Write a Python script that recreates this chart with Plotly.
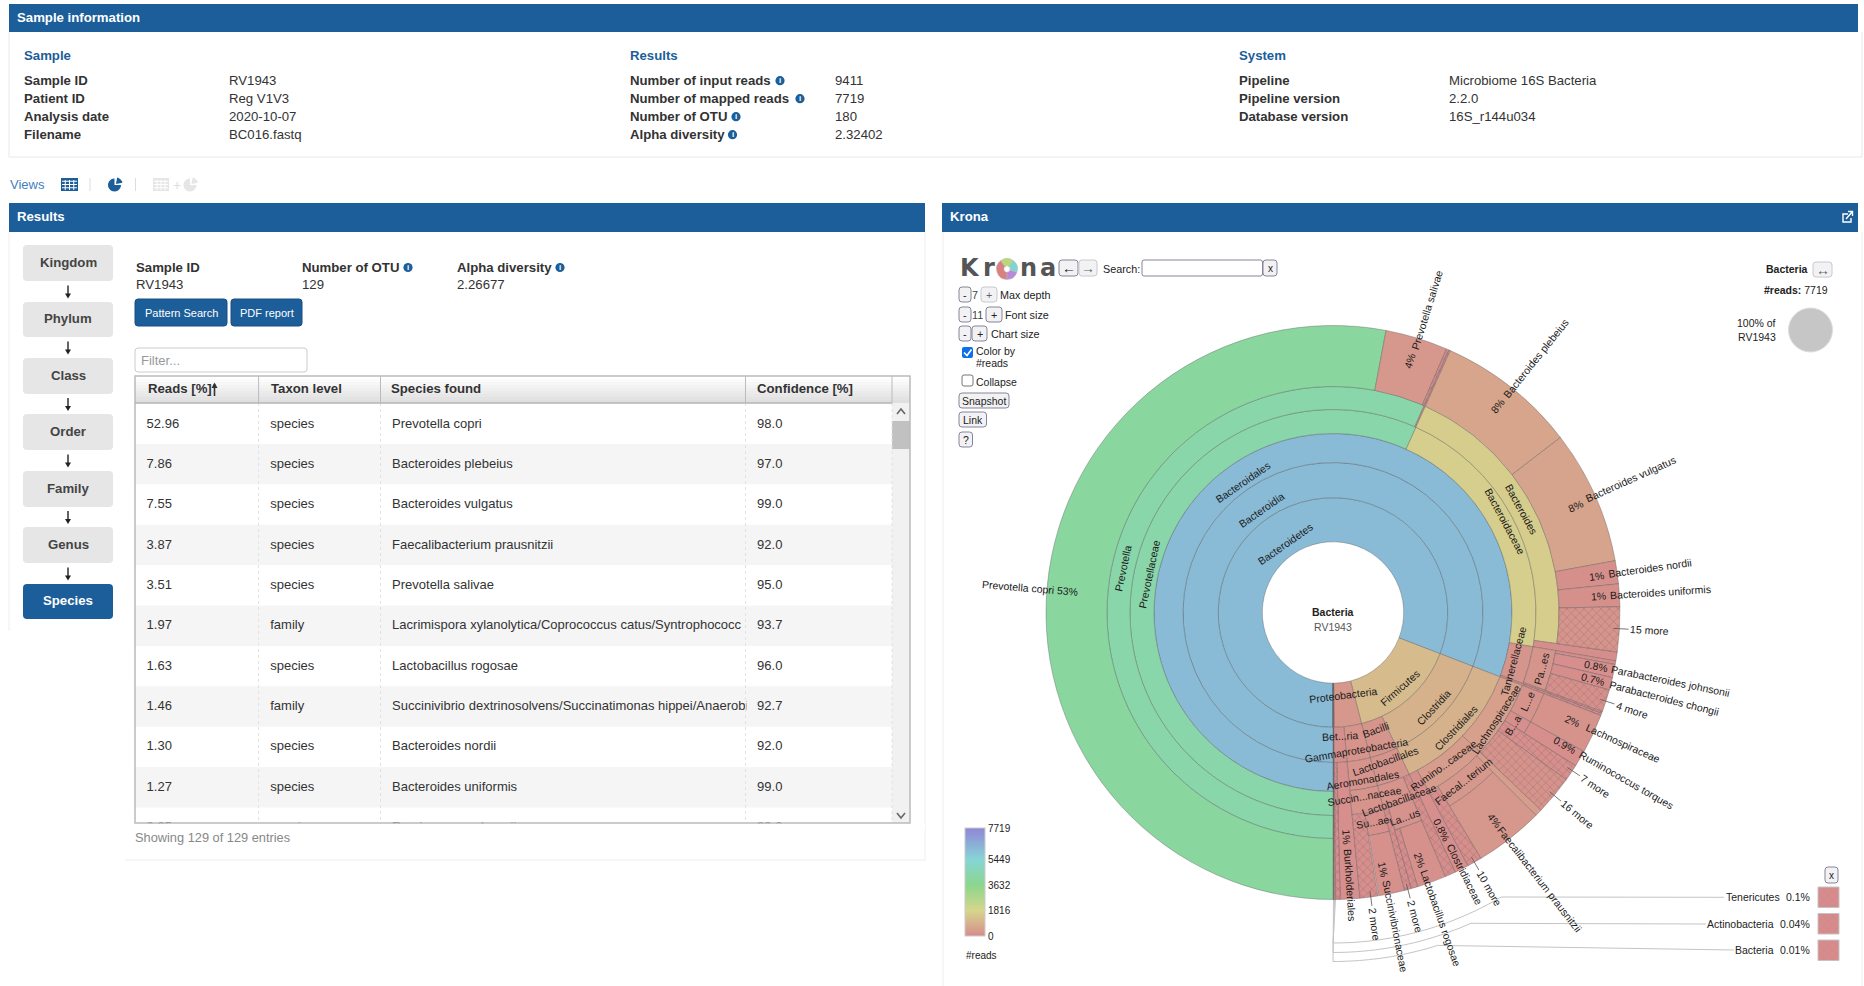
import math
import plotly.graph_objects as go

W, H = 1864, 986
CX, CY = 1333, 612.5
BLUE = "#1c5e99"
FONT = "Liberation Sans"
TS = 13.2  # body text size

# ---------- data ----------
sample_labels = ["Sample ID", "Patient ID", "Analysis date", "Filename"]
sample_values = ["RV1943", "Reg V1V3", "2020-10-07", "BC016.fastq"]
result_labels = ["Number of input reads", "Number of mapped reads", "Number of OTU", "Alpha diversity"]
result_values = ["9411", "7719", "180", "2.32402"]
system_labels = ["Pipeline", "Pipeline version", "Database version"]
system_values = ["Microbiome 16S Bacteria", "2.2.0", "16S_r144u034"]
levels = ["Kingdom", "Phylum", "Class", "Order", "Family", "Genus", "Species"]

table_headers = ["Reads [%]", "Taxon level", "Species found", "Confidence [%]"]
reads_pct = [52.96, 7.86, 7.55, 3.87, 3.51, 1.97, 1.63, 1.46, 1.30, 1.27, 0.95]
taxon_level = ["species", "species", "species", "species", "species", "family", "species", "family", "species", "species", "species"]
species_found = ["Prevotella copri", "Bacteroides plebeius", "Bacteroides vulgatus", "Faecalibacterium prausnitzii",
                 "Prevotella salivae", "Lacrimispora xylanolytica/Coprococcus catus/Syntrophococc",
                 "Lactobacillus rogosae", "Succinivibrio dextrinosolvens/Succinatimonas hippei/Anaerobi",
                 "Bacteroides nordii", "Bacteroides uniformis", "Ruminococcus bromii"]
confidence = [98.0, 97.0, 99.0, 92.0, 95.0, 93.7, 96.0, 92.7, 92.0, 99.0, 99.0]

# Krona cells: percent of reads clockwise from the bottom, ring span, reads
cell_names = ["Bacteroidetes", "Firmicutes", "Proteobacteria", "Tenericutes", "Actinobacteria", "Bacteria",
              "Bacteroidia", "Clostridia", "Bacilli", "Gammaproteobacteria", "Betaproteobacteria",
              "Bacteroidales", "Clostridiales", "Lactobacillales", "Aeromonadales", "Burkholderiales", "other Betaproteobacteria",
              "Prevotellaceae", "Bacteroidaceae", "Tannerellaceae", "other Bacteroidales", "Lachnospiraceae", "Ruminococcaceae",
              "Clostridiaceae", "other Lactobacillales", "Lactobacillaceae", "Succinivibrionaceae",
              "Prevotella", "other Prevotellaceae", "Bacteroides", "other Bacteroidaceae", "Parabacteroides", "other Tannerellaceae",
              "Lachnospiraceae g.", "Blautia", "7 more", "16 more", "other Ruminococcaceae", "Faecalibacterium", "10 more",
              "Lactobacillus", "other Lactobacillaceae", "Succinivibrio", "2 more",
              "Prevotella copri", "Prevotella salivae", "other Prevotella", "Bacteroides plebeius", "Bacteroides vulgatus",
              "Bacteroides nordii", "Bacteroides uniformis", "15 more", "other Parabacteroides", "Parabacteroides johnsonii",
              "Parabacteroides chongii", "4 more", "Lachnospiraceae sp.", "Ruminococcus torques", "Faecalibacterium prausnitzii",
              "Lactobacillus rogosae", "2 more", "Succinivibrionaceae sp."]
cell_start = [0, 80.85, 96.0, 99.85, 99.95, 99.99,
              0, 80.85, 93.0, 96.0, 98.5,
              0, 80.85, 93.0, 96.0, 98.5, 99.6,
              0, 56.7, 77.7, 80.7, 80.85, 87.1,
              92.2, 93.0, 93.6, 96.0,
              0, 56.6, 56.7, 77.2, 77.7, 80.6,
              80.85, 83.05, 83.95, 84.9, 87.1, 87.5, 91.37,
              93.6, 95.6, 96.0, 97.5,
              0, 52.96, 56.47, 56.7, 64.56,
              72.11, 73.41, 74.68, 77.7, 77.9,
              78.65, 79.35, 80.85, 83.05, 87.5,
              93.6, 95.23, 96.0]
cell_pct = [80.85, 15.15, 3.85, 0.10, 0.04, 0.01,
            80.85, 12.15, 3.0, 2.5, 1.35,
            80.85, 12.15, 3.0, 2.5, 1.1, 0.25,
            56.7, 21.0, 3.0, 0.15, 6.25, 5.1,
            0.8, 0.6, 2.4, 2.5,
            56.6, 0.1, 20.5, 0.5, 2.9, 0.1,
            2.2, 0.9, 0.95, 2.2, 0.4, 3.87, 0.83,
            2.0, 0.4, 1.5, 1.0,
            52.96, 3.51, 0.13, 7.86, 7.55,
            1.30, 1.27, 2.52, 0.2, 0.75,
            0.7, 1.25, 2.2, 0.9, 3.87,
            1.63, 0.37, 1.46]
cell_inner = [0, 0, 0, 0, 0, 0,
              1, 1, 1, 1, 1,
              2, 2, 2, 2, 2, 2,
              3, 3, 3, 3, 3, 3,
              3, 3, 3, 3,
              4, 4, 4, 4, 4, 4,
              4, 4, 4, 4, 4, 4, 4,
              4, 4, 4, 4,
              5, 5, 5, 5, 5,
              5, 5, 5, 5, 5,
              5, 5, 5, 5, 5,
              5, 5, 5]
cell_outer = [1, 1, 1, 6, 6, 6,
              2, 2, 2, 2, 2,
              3, 3, 3, 3, 6, 6,
              4, 4, 4, 6, 4, 4,
              6, 6, 4, 4,
              5, 6, 5, 6, 5, 6,
              5, 5, 6, 6, 6, 5, 6,
              5, 6, 5, 6,
              6, 6, 6, 6, 6,
              6, 6, 6, 6, 6,
              6, 6, 6, 6, 6,
              6, 6, 6]
cell_hatched = [0, 0, 0, 1, 1, 1,
                0, 0, 0, 0, 0,
                0, 0, 0, 0, 0, 1,
                0, 0, 0, 1, 0, 0,
                0, 1, 0, 0,
                0, 1, 0, 0, 0, 1,
                0, 0, 1, 1, 0, 0, 1,
                0, 1, 0, 1,
                0, 0, 1, 0, 0,
                0, 0, 1, 0, 0,
                0, 1, 0, 0, 0,
                0, 1, 0]
cell_reads = [6241, 1169, 297, 8, 3, 1,
              6241, 938, 232, 193, 104,
              6241, 938, 232, 193, 85, 19,
              4377, 1621, 232, 12, 482, 394,
              62, 46, 185, 193,
              4369, 8, 1582, 39, 224, 8,
              170, 69, 73, 170, 394, 299, 64,
              154, 31, 116, 77,
              4088, 271, 10, 607, 583,
              100, 98, 195, 15, 62,
              54, 96, 170, 69, 299,
              126, 29, 113]

ring_radius = [70.7, 114.8, 150, 179, 203, 226, 287]

legend_ticks = [0, 1816, 3632, 5449, 7719]
other_names = ["Tenericutes", "Actinobacteria", "Bacteria"]
other_shares = ["0.1%", "0.04%", "0.01%"]

# label name, percent position, radius of the label centre
tangent_labels = [("Bacteroidetes", 40.3, 84), ("Bacteroidia", 40.3, 125.5), ("Bacteroidales", 40.4, 158.6),
                  ("Prevotellaceae", 28.3, 188), ("Prevotella", 28.3, 214.3), ("Bacteroides", 67.0, 215),
                  ("Bacteroidaceae", 67.2, 195), ("Tannerellaceae", 79.2, 187), ("Pa...es", 79.2, 215.7),
                  ("L...e", 81.8, 213.7), ("B...a", 83.9, 212.4), ("Lachnospiraceae", 84.2, 195),
                  ("Rumino...caceae", 90.0, 188.5), ("Faecal...terium", 89.5, 213.8), ("Clostridiales", 87.0, 168),
                  ("Clostridia", 87.0, 138.6), ("Firmicutes", 88.5, 101), ("Proteobacteria", 98.0, 83),
                  ("Bet...ria", 99.1, 124), ("Bacilli", 94.5, 124.6), ("Gammaproteobacteria", 97.3, 139),
                  ("Lactobacillales", 94.6, 158), ("Aeromonadales", 97.2, 170), ("Succin...naceae", 97.3, 186),
                  ("Lactobacillaceae", 94.6, 198.7), ("Su...ae", 97.0, 213), ("La...us", 94.6, 216.6)]
radial_labels = [("Prevotella copri", 26.3, 316), ("53%", 26.3, 266), ("Prevotella salivae", 54.8, 316.6), ("4%", 54.7, 263),
                 ("Bacteroides plebeius", 60.7, 324.5), ("8%", 60.7, 264), ("Bacteroides vulgatus", 68.3, 326), ("8%", 68.4, 265),
                 ("Bacteroides nordii", 72.8, 320), ("1%", 72.8, 265.6), ("Bacteroides uniformis", 74.0, 328.4), ("1%", 74.0, 266),
                 ("Parabacteroides johnsonii", 78.2, 344.7), ("0.8%", 78.2, 268.4), ("Parabacteroides chongii", 79.0, 341.8), ("0.7%", 79.0, 268),
                 ("Lachnospiraceae", 81.75, 317.8), ("2%", 81.75, 263), ("Ruminococcus torques", 83.25, 338), ("0.9%", 83.25, 267),
                 ("Faecalibacterium prausnitzii", 89.5, 337), ("4%", 89.5, 263), ("Clostridiaceae", 92.6, 293), ("0.8%", 92.6, 243),
                 ("Lactobacillus rogosae", 94.6, 324), ("2%", 94.6, 262), ("Succinivibrionaceae", 96.9, 320), ("1%", 96.9, 262),
                 ("Burkholderiales", 99.0, 273), ("1%", 99.0, 224.5)]
more_labels = [("15 more", 75.9), ("4 more", 80.0), ("7 more", 84.3), ("16 more", 86.0),
               ("10 more", 91.8), ("2 more", 95.8), ("2 more", 97.9)]

# ---------- helpers ----------
shapes, annos = [], []


def polar_xy(p, r):
    th = math.radians(180 + 3.6 * p)
    return CX + r * math.sin(th), CY - r * math.cos(th)


def T(text, x, y, size=TS, color="#333333", bold=False, anchor="left", angle=0, font=FONT):
    if anchor == "left":
        x -= 1
    annos.append(dict(text=f"<b>{text}</b>" if bold else text, x=x, y=y, xref="x", yref="y", showarrow=False,
                      xanchor=anchor, yanchor="middle", textangle=angle, borderpad=0,
                      font=dict(family=font, size=size, color=color)))


def rect(x0, y0, x1, y1, fill="rgba(0,0,0,0)", line="rgba(0,0,0,0)", lw=0, layer="below"):
    shapes.append(dict(type="rect", xref="x", yref="y", x0=x0, y0=y0, x1=x1, y1=y1, fillcolor=fill,
                       line=dict(color=line, width=lw), layer=layer))


def line(x0, y0, x1, y1, color="#cccccc", lw=1, dash="solid", layer="below"):
    shapes.append(dict(type="line", xref="x", yref="y", x0=x0, y0=y0, x1=x1, y1=y1,
                       line=dict(color=color, width=lw, dash=dash), layer=layer))


def path(d, fill="rgba(0,0,0,0)", color="rgba(0,0,0,0)", lw=0, layer="below"):
    shapes.append(dict(type="path", xref="x", yref="y", path=d, fillcolor=fill,
                       line=dict(color=color, width=lw), layer=layer))


def rrect(x0, y0, x1, y1, r=3, fill="#ffffff", color="rgba(0,0,0,0)", lw=0, layer="below"):
    d = (f"M{x0+r},{y0} L{x1-r},{y0} Q{x1},{y0} {x1},{y0+r} L{x1},{y1-r} Q{x1},{y1} {x1-r},{y1} "
         f"L{x0+r},{y1} Q{x0},{y1} {x0},{y1-r} L{x0},{y0+r} Q{x0},{y0} {x0+r},{y0} Z")
    path(d, fill, color, lw, layer)


def circle(cx, cy, r, fill, color="rgba(0,0,0,0)", lw=0, layer="below"):
    shapes.append(dict(type="circle", xref="x", yref="y", x0=cx-r, y0=cy-r, x1=cx+r, y1=cy+r, fillcolor=fill,
                       line=dict(color=color, width=lw), layer=layer))


def info(cx, cy):
    circle(cx, cy, 4.6, BLUE)
    T("i", cx, cy, size=8, color="#ffffff", bold=True, anchor="center")


def grid_icon(x0, y0, x1, y1, color):
    rect(x0, y0, x1, y1, fill=color)
    for i in (1, 2, 3):
        xx = x0 + (x1 - x0) * i / 4
        line(xx, y0 + 2, xx, y1 - 1, "#ffffff", 1)
    for j in (1, 2, 3):
        yy = y0 + (y1 - y0) * j / 4
        line(x0 + 1, yy, x1 - 1, yy, "#ffffff", 1)


def pie_icon(cx, cy, r, color):
    pts = " ".join(f"L{cx + r*math.sin(math.radians(a)):.2f},{cy - r*math.cos(math.radians(a)):.2f}"
                   for a in range(90, 361, 15))
    path(f"M{cx},{cy} {pts} Z", color)
    pts2 = " ".join(f"L{cx + 1.5 + r*math.sin(math.radians(a)):.2f},{cy - 1 - r*math.cos(math.radians(a)):.2f}"
                    for a in range(10, 81, 14))
    path(f"M{cx+1.5},{cy-1} {pts2} Z", color)


def kbtn(x0, y0, x1, y1, text, enabled=True, size=10.8):
    rrect(x0, y0, x1, y1, 3, "#f2f2f4", "#85859a" if enabled else "#c8c8d0", 1)
    T(text, (x0 + x1) / 2, (y0 + y1) / 2, size=size, color="#222222" if enabled else "#666666", anchor="center")


# ---------- page furniture ----------
rect(9, 4, 1858, 32, BLUE)
T("Sample information", 17, 17.5, TS, "#ffffff", True)
line(9, 32, 9, 157, "#e8e8e8")
line(1862, 32, 1862, 157, "#e8e8e8")
line(9, 157, 1862, 157, "#e8e8e8")

for hx, title in ((24, "Sample"), (630, "Results"), (1239, "System")):
    T(title, hx, 55, TS, BLUE, True)
row_y = [80.2, 98.2, 116.2, 134.2]
for i, (a, b) in enumerate(zip(sample_labels, sample_values)):
    T(a, 24, row_y[i], TS, "#333333", True)
    T(b, 229, row_y[i], TS)
for i, (a, b) in enumerate(zip(result_labels, result_values)):
    T(a, 630, row_y[i], TS, "#333333", True)
    T(b, 835, row_y[i], TS)
for cx, cy in zip((780, 800, 736, 732.5), row_y):
    info(cx, cy + 0.5)
for i, (a, b) in enumerate(zip(system_labels, system_values)):
    T(a, 1239, row_y[i], TS, "#333333", True)
    T(b, 1449, row_y[i], TS)

T("Views", 9.5, 184.5, 13, "#3f7fbf")
grid_icon(61, 178, 78, 191, BLUE)
line(90, 178, 90, 191, "#dddddd")
pie_icon(114.5, 185, 6.5, BLUE)
line(135.5, 178, 135.5, 191, "#dddddd")
grid_icon(153, 178, 169, 191, "#e6e6e6")
T("+", 177, 184.5, 14, "#e0e0e0", anchor="center")
pie_icon(190, 185, 6.5, "#e6e6e6")

rect(9, 203, 925, 232, BLUE)
T("Results", 17, 216.7, TS, "#ffffff", True)
rect(942, 203, 1858, 232, BLUE)
T("Krona", 950, 216.7, TS, "#ffffff", True)
path("M1848,214 L1843,214 L1843,222 L1851,222 L1851,218", color="#ffffff", lw=1.4, layer="above")
path("M1846,219 L1852,212 M1848,211.5 L1852.5,211.5 L1852.5,216", color="#ffffff", lw=1.4, layer="above")

line(9, 232, 9, 631, "#eeeeee")
line(925, 232, 925, 860, "#eeeeee")
line(125, 860, 925, 860, "#eeeeee")
line(943, 232, 943, 986, "#eeeeee")
line(1862, 232, 1862, 986, "#eeeeee")

nav_y = [(245, 281), (302, 337), (358, 394), (414, 450), (471, 507), (527, 563), (584, 619)]
for i, (name, (y0, y1)) in enumerate(zip(levels, nav_y)):
    sel = name == "Species"
    rrect(23, y0, 113, y1, 4, BLUE if sel else "#e6e6e6")
    T(name, 68, (y0 + y1) / 2 - 1, TS, "#ffffff" if sel else "#444444", True, "center")
    if not sel:
        ay = (y1 + nav_y[i + 1][0]) / 2
        line(68, ay - 6, 68, ay + 5, "#222222", 1.4)
        path(f"M65,{ay+2} L71,{ay+2} L68,{ay+7} Z", "#222222")

T("Sample ID", 135.5, 267, TS, "#333333", True)
T("RV1943", 135.5, 284, TS)
T("Number of OTU", 302, 267, TS, "#333333", True)
T("129", 302, 284, TS)
info(408, 267.5)
T("Alpha diversity", 457, 267, TS, "#333333", True)
T("2.26677", 457, 284, TS)
info(560, 267.5)

rrect(135, 299, 227, 326, 3, BLUE, "#174f82", 1)
T("Pattern Search", 181, 312.5, 11, "#ffffff", anchor="center")
rrect(231, 299, 302, 326, 3, BLUE, "#174f82", 1)
T("PDF report", 266.5, 312.5, 11, "#ffffff", anchor="center")
rrect(135, 348, 307, 372, 3, "#ffffff", "#cccccc", 1)
T("Filter...", 141, 360, 13, "#999999")

# table header gradient and row stripes under the transparent table
for k in range(9):
    g = 255 - int(k * 4)
    rect(135, 376 + 3 * k, 910, 379 + 3 * k, f"rgb({g},{g},{g})")
ROW_H = 40.4
for i in range(1, len(reads_pct), 2):
    rect(135, 403.5 + ROW_H * i, 892, min(823, 403.5 + ROW_H * (i + 1)), "#f5f5f5")

# scrollbar and table frame sit above the table
rect(125, 823.5, 925, 830, "#ffffff", layer="above")
rect(892, 403, 910, 823, "#f1f1f1", layer="above")
rect(892, 421, 910, 449, "#c1c1c1", layer="above")
path("M897,414 L901,409 L905,414", color="#666666", lw=1.6, layer="above")
path("M897,813 L901,818 L905,813", color="#666666", lw=1.6, layer="above")
for sx in (258.6, 380.5, 745.5, 892):
    line(sx, 403, sx, 823, "#e2e2e2", 1, "dot", "above")
    line(sx, 376, sx, 403, "#bbbbbb", 1, layer="above")
rect(135, 376, 910, 823, line="#bbbbbb", lw=1.5, layer="above")
line(135, 403, 892, 403, "#b5b5b5", 1.5, layer="above")
for hx, h in zip((147.5, 270.5, 391, 757), table_headers):
    T(h, hx, 388.7, TS, "#333333", True)
line(214.5, 384, 214.5, 396, "#333333", 1.6, layer="above")
path("M211.5,388 L217.5,388 L214.5,382.5 Z", "#333333", layer="above")
T("Showing 129 of 129 entries", 135, 837.5, 12.8, "#888888")

# ---------- Krona furniture ----------
for txt, x in (("K", 970), ("r", 989), ("n", 1028), ("a", 1048)):
    T(txt, x, 268, 24, "#555555", True, "center", font="DejaVu Sans")
kbtn(1059, 260, 1078, 276, "←", True, 14)
kbtn(1079, 260, 1097, 276, "→", False, 14)
T("Search:", 1103, 268.5, 10.8, "#222222")
rrect(1142, 260, 1262.5, 276, 2, "#ffffff", "#85859a", 1)
kbtn(1263, 260, 1277, 276, "x", True, 10)

kbtn(959, 287, 971, 302, "-")
T("7", 975, 294.5, 10.8, "#444444", anchor="center")
kbtn(981, 287, 997, 302, "+", False)
T("Max depth", 1000, 294.5, 10.8, "#222222")
kbtn(959, 307, 971, 322, "-")
T("11", 977.5, 314.5, 10.8, "#444444", anchor="center")
kbtn(986, 307, 1002, 322, "+")
T("Font size", 1005, 314.5, 10.8, "#222222")
kbtn(959, 326, 971, 341, "-")
kbtn(972, 326, 987, 341, "+")
T("Chart size", 991, 333.5, 10.8, "#222222")

rrect(962, 347, 973, 358, 2, "#0f6fe8")
path("M964,352.5 L967,355.5 L971.5,349.5", color="#ffffff", lw=1.6)
T("Color by", 976, 351, 10.5, "#222222")
T("#reads", 976, 362.5, 10.5, "#222222")
rrect(962, 375, 973, 386, 2, "#ffffff", "#767676", 1)
T("Collapse", 976, 381.5, 10.5, "#222222")
kbtn(959, 393, 1009, 408, "Snapshot", True, 10.5)
kbtn(959, 412, 986.5, 427, "Link", True, 10.5)
kbtn(959, 432, 972.5, 447, "?", True, 10.5)

T("Bacteria", 1809, 269.3, 10.5, "#222222", True, "right")
kbtn(1813, 262, 1832, 277, "↔", False, 14)
T("<b>#reads:</b> 7719", 1828.5, 290, 10.5, "#222222", False, "right")
T("100% of", 1777, 322.7, 10.5, "#222222", False, "right")
T("RV1943", 1777, 337.3, 10.5, "#222222", False, "right")
circle(1810.5, 330, 22, "#c6c6c6", "#dddddd", 1)

T("<b>Bacteria</b>", CX, 612.3, 10.5, "#222222", False, "center")
T("RV1943", CX, 627.3, 10.5, "#555555", False, "center")
T("#reads", 965.7, 955.5, 10, "#222222")

# leader lines for the tiny phyla
for r, end_p, yy, xend, name, share, tx in ((330.5, 91.5, 897.3, 1724, other_names[0], other_shares[0], 1780.7),
                                            (340, 93.35, 924, 1706, other_names[1], other_shares[1], 1775),
                                            (349, 95.15, 950, 1734, other_names[2], other_shares[2], 1775)):
    vx = {330.5: 1335.5, 340: 1334.5, 349: 1333.5}[r]
    pts = [polar_xy(end_p + (100 - end_p) * i / 24, r) for i in range(25)]
    d = f"M{xend},{yy} " + " ".join(f"L{x:.1f},{y:.1f}" for x, y in pts) + f" L{vx},{CY+287}"
    path(d, color="#c4c4c4", lw=1, layer="below")
    T(name, tx, yy, 10.5, "#222222", False, "right")
    T(share, 1811, yy, 10.5, "#222222", False, "right")
kbtn(1825, 867, 1838, 883, "x", True, 10)

# ---------- Krona labels ----------
for text, p, r in tangent_labels:
    x, y = polar_xy(p, r)
    th = (180 + 3.6 * p) % 360
    ang = th if (th <= 90 or th >= 270) else th - 180
    ang = ang - 360 if ang > 180 else ang
    T(text, x, y, 10.5, "#1a1a1a", False, "center", ang)
for text, p, r in radial_labels:
    x, y = polar_xy(p, r)
    th = (180 + 3.6 * p) % 360
    ang = th - 90 if th < 180 else th + 90 - 360
    T(text, x, y, 10.5, "#1a1a1a", False, "center", ang)
for text, p in more_labels:
    x0, y0 = polar_xy(p, 281)
    x1, y1 = polar_xy(p, 296)
    line(x0, y0, x1, y1, "#555555", 0.8, layer="above")
    x, y = polar_xy(p, 300 + len(text) * 2.4)
    th = 180 + 3.6 * p - 360
    T(text, x, y, 10.5, "#1a1a1a", False, "center", th - 90)

# ---------- traces ----------
hatch_fg = "rgba(185,100,100,0.4)"
krona = go.Barpolar(
    theta=[(s + w / 2) * 3.6 for s, w in zip(cell_start, cell_pct)],
    width=[w * 3.6 for w in cell_pct],
    base=[ring_radius[i] for i in cell_inner],
    r=[ring_radius[o] - ring_radius[i] for i, o in zip(cell_inner, cell_outer)],
    text=cell_names,
    hoverinfo="skip",
    marker=dict(
        color=cell_reads, cmin=0, cmax=7719,
        colorscale=[[0, "#d68c8c"], [0.235, "#d6d68c"], [0.47, "#8cd68c"], [0.706, "#85d6d6"], [1, "#9085d6"]],
        line=dict(color="rgba(85,85,85,0.45)", width=0.8),
        pattern=dict(shape=["x" if h else "" for h in cell_hatched], size=6, solidity=0.12, fgcolor=hatch_fg),
        showscale=True,
        colorbar=dict(x=965.3 / W, xanchor="left", xpad=0, y=1 - 936 / H, yanchor="bottom", ypad=0,
                      thickness=20, thicknessmode="pixels", len=108, lenmode="pixels",
                      tickvals=legend_ticks, ticks="", outlinecolor="#cccccc", outlinewidth=1, borderwidth=0,
                      tickfont=dict(family=FONT, size=10, color="#222222")),
    ),
)

# the table sits 5.5 px lower than its frame so its text centres in the striped rows
TABLE_SHIFT = 5.5
table = go.Table(
    domain=dict(x=[135 / W, 892 / W], y=[1 - (823 + TABLE_SHIFT) / H, 1 - (376 + TABLE_SHIFT) / H]),
    columnwidth=[123.6, 121.9, 365, 146.5],
    header=dict(values=["", "", "", ""], height=28.3, align="left",
                fill_color="rgba(0,0,0,0)", line_color="rgba(0,0,0,0)",
                font=dict(family=FONT, size=13, color="#333333")),
    cells=dict(values=[reads_pct, taxon_level, [s.replace(" ", "\u00a0") for s in species_found], confidence],
               format=[".2f", "", "", ".1f"], prefix="\u00a0", align="left", height=40.35,
               fill_color="rgba(0,0,0,0)",
               line_color="rgba(0,0,0,0)",
               font=dict(family=FONT, size=13, color="#333333")),
)

logo = go.Pie(values=[2, 1, 1, 1], sort=False, direction="clockwise", rotation=180, hole=0.3,
              marker=dict(colors=["#d98080", "#b9d977", "#7fd6d0", "#b98ad9"], line=dict(color="#bbbbbb", width=0.5)),
              textinfo="none", hoverinfo="skip", showlegend=False,
              domain=dict(x=[996.5 / W, 1017.5 / W], y=[1 - 279.5 / H, 1 - 258.5 / H]))

swatches = go.Bar(x=[1828.5, 1828.5, 1828.5], y=[20.5, 20.5, 20.5], base=[887, 913.5, 940], width=21,
                  hoverinfo="skip", showlegend=False,
                  marker=dict(color="#d68c8c", line=dict(color="#c4c4c4", width=1),
                              pattern=dict(shape="x", size=6, solidity=0.12, fgcolor=hatch_fg)))

fig = go.Figure([swatches, krona, table, logo])
fig.update_layout(
    width=W, height=H, autosize=False, margin=dict(l=0, r=0, t=0, b=0, pad=0),
    paper_bgcolor="#ffffff", plot_bgcolor="rgba(0,0,0,0)", showlegend=False,
    font=dict(family=FONT),
    xaxis=dict(range=[0, W], visible=False, fixedrange=True),
    yaxis=dict(range=[H, 0], visible=False, fixedrange=True),
    polar=dict(
        domain=dict(x=[(CX - 360) / W, (CX + 360) / W], y=[1 - (CY + 360) / H, 1 - (CY - 360) / H]),
        bgcolor="rgba(0,0,0,0)", barmode="overlay",
        radialaxis=dict(visible=False, range=[0, 360]),
        angularaxis=dict(visible=False, rotation=-90, direction="clockwise"),
    ),
    shapes=shapes, annotations=annos,
)
fig.write_html("out.html", config={"displayModeBar": False},
               post_script="document.body.style.margin='0';document.body.style.overflow='hidden';")
